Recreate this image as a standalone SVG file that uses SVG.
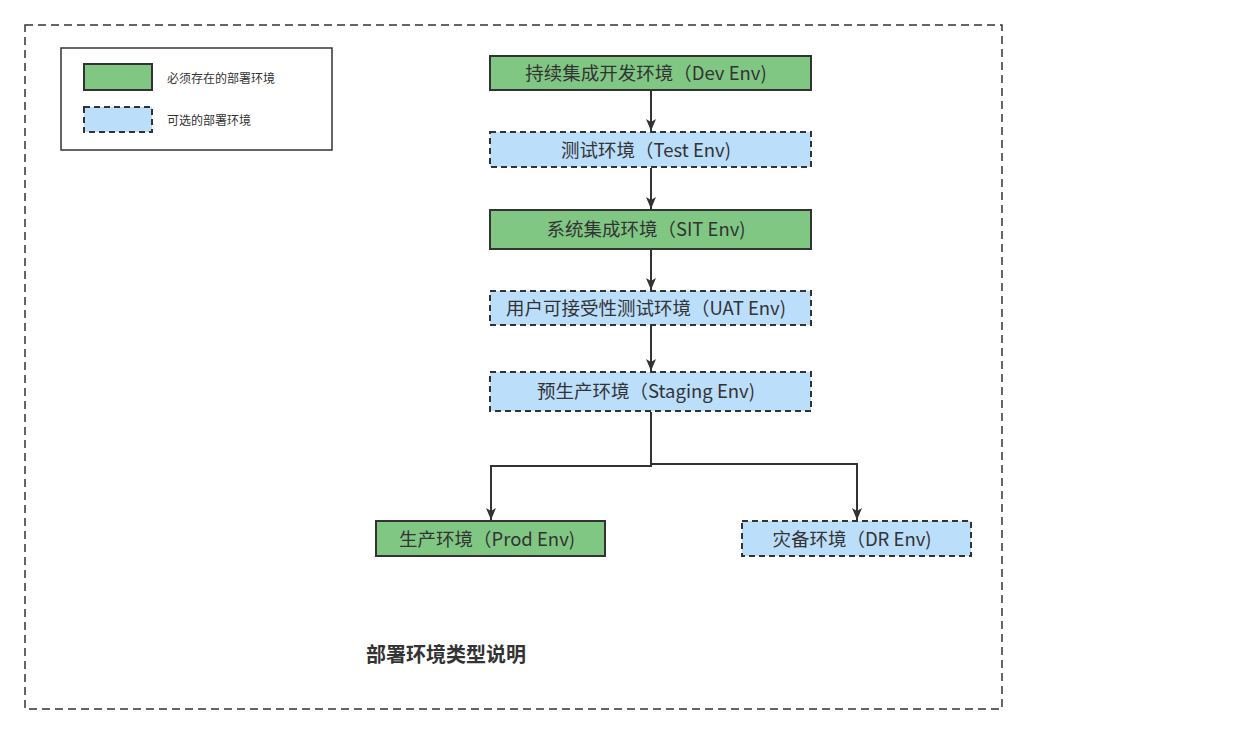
<svg xmlns="http://www.w3.org/2000/svg" width="1240" height="734" viewBox="0 0 1240 734">
<defs>
<style>
.req{fill:#81c784;stroke:#333;stroke-width:2}
.opt{fill:#bbdefb;stroke:#333;stroke-width:2;stroke-dasharray:6 4}
.t{font-family:"Noto Sans CJK SC","Liberation Sans",sans-serif;font-size:18.5px;fill:#333;text-anchor:middle;dominant-baseline:central}
.lt{font-family:"Noto Sans CJK SC","Liberation Sans",sans-serif;font-size:12px;fill:#333;dominant-baseline:central}
.c{fill:none;stroke:#333;stroke-width:2}
</style>
<marker id="ah" viewBox="0 0 12 10" refX="12" refY="5" markerWidth="6" markerHeight="5" markerUnits="strokeWidth" orient="auto">
<path d="M0,0 L12,5 L0,10 L3,5 z" fill="#333"/>
</marker>
</defs>
<rect width="1240" height="734" fill="#fff"/>
<rect id="frame" x="25" y="25" width="977" height="684" fill="none" stroke="#333" stroke-width="1.5" stroke-dasharray="8 5"/>
<g id="legend">
<rect x="61" y="48" width="271" height="102" fill="#fff" stroke="#333" stroke-width="1.5"/>
<rect class="req" x="84" y="64" width="68" height="26"/>
<text class="lt" x="167" y="77">必须存在的部署环境</text>
<rect class="opt" x="84" y="107" width="68" height="25"/>
<text class="lt" x="167" y="119">可选的部署环境</text>
</g>
<g id="connectors">
<line class="c" x1="651" y1="91" x2="651" y2="131" marker-end="url(#ah)"/>
<line class="c" x1="651" y1="168" x2="651" y2="209" marker-end="url(#ah)"/>
<line class="c" x1="651" y1="250" x2="651" y2="290" marker-end="url(#ah)"/>
<line class="c" x1="651" y1="326" x2="651" y2="371" marker-end="url(#ah)"/>
<polyline class="c" points="651,412 651,466 491,466 491,520" marker-end="url(#ah)"/>
<polyline class="c" points="651,464 857,464 857,520" marker-end="url(#ah)"/>
</g>
<g id="dev"><rect class="req" x="490" y="56" width="321" height="34"/><text class="t" x="646" y="72">持续集成开发环境（Dev Env)</text></g>
<g id="test"><rect class="opt" x="490" y="132" width="321" height="35"/><text class="t" x="646" y="149">测试环境（Test Env)</text></g>
<g id="sit"><rect class="req" x="490" y="210" width="321" height="39"/><text class="t" x="646" y="228">系统集成环境（SIT Env)</text></g>
<g id="uat"><rect class="opt" x="490" y="291" width="321" height="34"/><text class="t" x="646" y="307">用户可接受性测试环境（UAT Env)</text></g>
<g id="staging"><rect class="opt" x="490" y="372" width="321" height="39"/><text class="t" x="646" y="390">预生产环境（Staging Env)</text></g>
<g id="prod"><rect class="req" x="376" y="521" width="229" height="35"/><text class="t" x="487" y="538">生产环境（Prod Env)</text></g>
<g id="dr"><rect class="opt" x="742" y="521" width="229" height="35"/><text class="t" x="852" y="538">灾备环境（DR Env)</text></g>
<text x="446" y="653" font-family="Noto Sans CJK SC,Liberation Sans,sans-serif" font-size="20" font-weight="bold" fill="#333" text-anchor="middle" dominant-baseline="central">部署环境类型说明</text>
</svg>
